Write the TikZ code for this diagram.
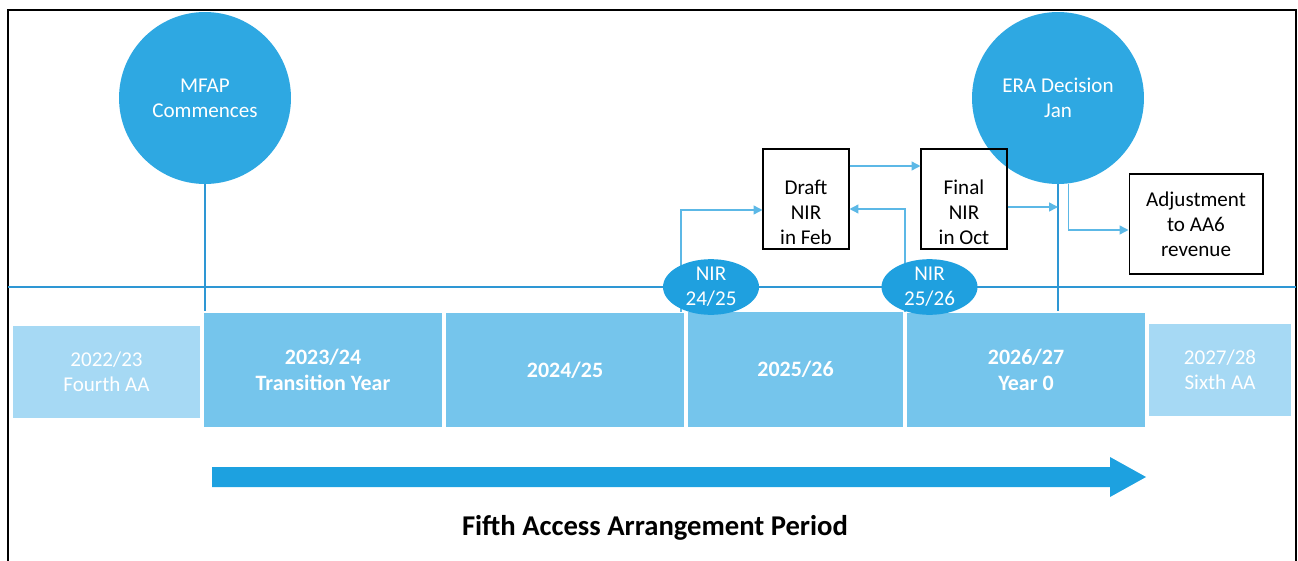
\documentclass[tikz,border=0pt]{standalone}
\usepackage{fontspec}
\setmainfont{Carlito}
\usetikzlibrary{arrows.meta,shapes.geometric}
\definecolor{bleucercle}{HTML}{2EA8E2}
\definecolor{bleuellipse}{HTML}{1FA0DF}
\definecolor{bleuligne}{HTML}{2E97D4}
\definecolor{bleufleche}{HTML}{5CB8E6}
\definecolor{anneefonce}{HTML}{75C5EC}
\definecolor{anneeclair}{HTML}{A6D9F4}
\definecolor{bleuperiode}{HTML}{1DA1E0}
\tikzset{
  texte/.style={font=\fontsize{12}{14.2}\selectfont, align=center},
  jalon/.style={circle, fill=bleucercle, text=white, minimum size=3.44cm, inner sep=0pt, texte},
  nir/.style={ellipse, fill=bleuellipse, text=white, minimum width=1.92cm, minimum height=1.08cm, inner sep=0pt, texte},
  etape/.style={rectangle, draw=black, line width=0.6pt, minimum width=1.72cm, minimum height=2cm, inner sep=0pt, texte},
  basse/.style={text height=51.5pt, text depth=0pt},
  annee/.style={rectangle, fill=anneefonce, draw=white, line width=0.6pt, text=white, minimum width=4.8cm, minimum height=2.32cm, inner sep=0pt, texte, font=\fontsize{12.5}{14.6}\selectfont\bfseries},
  horsaa/.style={rectangle, fill=anneeclair, draw=white, line width=0.6pt, text=white, minimum height=1.88cm, inner sep=0pt, texte},
  fleche/.style={draw=bleufleche, line width=0.8pt, -{Triangle[length=5pt,width=5pt]}},
  trait/.style={draw=bleuligne, line width=1pt}
}
\begin{document}
\begin{tikzpicture}[x=0.02cm,y=-0.02cm]
  \useasboundingbox (0,0) rectangle (1298,561);

  % Cadre et axe
  \draw[line width=1.2pt] (8,565) -- (8,10) -- (1296,10) -- (1296,565);
  \coordinate (axeg) at (8,287);
  \coordinate (axed) at (1296,287);
  \draw[trait] (axeg) -- (axed);

  % Années
  \node[horsaa, minimum width=3.78cm] (a2223) at (106.5,372) {2022/23\\Fourth AA};
  \node[annee] (a2324) at (323,370) {2023/24\\Transition Year};
  \node[annee] (a2425) at (565,370) {2024/25};
  \node[annee, minimum width=4.34cm] (a2526) at (795.5,369.5) {2025/26};
  \node[annee] (a2627) at (1026,370) {2026/27\\Year 0};
  \node[horsaa, minimum width=2.88cm] (a2728) at (1220,370) {2027/28\\Sixth AA};

  % Jalons
  \node[jalon] (mfap) at (205,98) {MFAP\\Commences};
  \node[jalon] (era) at (1058,98) {ERA Decision\\Jan};
  \draw[trait] (mfap.south) -- (mfap.south |- a2324.north);
  \draw[trait] (era.south) -- (era.south |- a2627.north);

  % Étapes NIR
  \node[etape, basse] (draft) at (806,199) {Draft\\NIR\\in Feb};
  \node[etape, basse] (final) at (964,199) {Final\\NIR\\in Oct};
  \node[etape, minimum width=2.68cm] (adj) at (1196,224) {Adjustment\\to AA6\\revenue};

  % Flèches
  \coordinate (n1b) at (681,312);
  \coordinate (n2b) at (905,312);
  \coordinate (fo) at ([yshift=-0.16cm]final.east);
  \draw[fleche] (n1b) |- ([yshift=-0.22cm]draft.west);
  \draw[fleche] (n2b) |- ([yshift=-0.2cm]draft.east);
  \draw[fleche] ([yshift=0.66cm]draft.east) -- ([yshift=0.66cm]final.west);
  \draw[fleche] (fo) -- (fo -| era.south);
  \draw[fleche] (era.-83) |- ([yshift=-0.12cm]adj.west);

  \node[nir] (nir1) at (711,287) {NIR\\24/25};
  \node[nir] (nir2) at (929.5,287) {NIR\\25/26};

  % Période
  \fill[bleuperiode] (212,467) -- (1110,467) -- (1110,457) -- (1146,477)
    -- (1110,497) -- (1110,487) -- (212,487) -- cycle;
  \node[font=\fontsize{16.3}{19}\selectfont\bfseries] (titre) at (655,528) {Fifth Access Arrangement Period};
\end{tikzpicture}
\end{document}
